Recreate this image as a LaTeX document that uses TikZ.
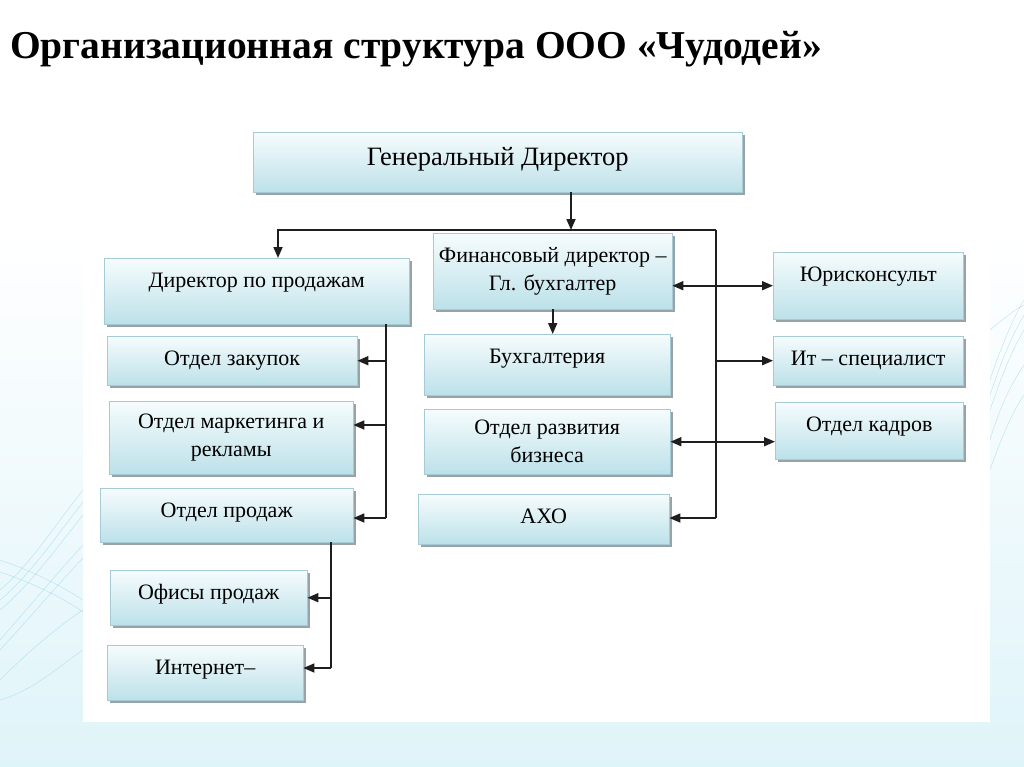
\documentclass[tikz,border=0pt]{standalone}
\usepackage{fontspec}
\setmainfont{Liberation Serif}
\usepackage{tikz}
\usetikzlibrary{arrows.meta, shadows}
\usepackage{xcolor}
\definecolor{boxTop}{HTML}{F6FCFD}
\definecolor{boxBottom}{HTML}{BCE1E9}
\definecolor{boxEdge}{HTML}{A6CBD4}
\definecolor{boxShade}{HTML}{8C9A9E}
\definecolor{waveBlue}{HTML}{8FD0E6}
\definecolor{pageCyan}{HTML}{DFF4F9}
\definecolor{lineDark}{HTML}{1E1E1E}

\begin{document}
\begin{tikzpicture}[
    x=1bp, y=-1bp,
    >={Triangle[length=11bp,width=9bp]},
    unit/.style={rectangle, draw=boxEdge, top color=boxTop, bottom color=boxBottom,
        inner xsep=0pt, inner ysep=0pt, anchor=north west, align=center,
        font=\fontsize{22bp}{28bp}\selectfont,
        drop shadow={shadow xshift=2.5bp, shadow yshift=-3bp, fill=boxShade, opacity=0.9}},
    oneline/.style={text height=29bp, text depth=#1},
    link/.style={draw=lineDark, line width=1.7bp},
    wave/.style={draw=waveBlue, line width=0.5bp, opacity=0.5}
]
    \useasboundingbox (0,0) rectangle (1024,767);

    % page background
    \fill[top color=white, bottom color=pageCyan] (0,240) rectangle (1024,767);
    \draw[wave] (0,590) .. controls (30,565) and (55,525) .. (83,490);
    \draw[wave] (0,600) .. controls (30,575) and (55,538) .. (83,502);
    \draw[wave] (0,610) .. controls (30,585) and (55,550) .. (83,515);
    \draw[wave] (0,640) .. controls (35,600) and (60,570) .. (83,545);
    \draw[wave] (0,650) .. controls (35,612) and (60,582) .. (83,558);
    \draw[wave] (0,560) .. controls (30,570) and (60,585) .. (83,600);
    \draw[wave] (0,572) .. controls (30,582) and (60,596) .. (83,612);
    \draw[wave] (0,680) .. controls (30,650) and (60,625) .. (83,610);
    \draw[wave] (0,700) .. controls (35,690) and (60,665) .. (83,650);
    \draw[wave] (990,380) .. controls (1000,350) and (1012,320) .. (1024,300);
    \draw[wave] (990,395) .. controls (1001,362) and (1012,335) .. (1024,315);
    \draw[wave] (990,410) .. controls (1002,375) and (1012,350) .. (1024,330);
    \draw[wave] (990,440) .. controls (1002,400) and (1014,380) .. (1024,365);
    \draw[wave] (990,470) .. controls (1004,430) and (1014,410) .. (1024,395);
    \draw[wave] (990,330) .. controls (1002,320) and (1014,310) .. (1024,305);
    \fill[white] (83,98) rectangle (990,722);

    \node[anchor=base west, inner sep=0pt, font=\bfseries\fontsize{39.5bp}{44bp}\selectfont] (title) at (10,59)
        {Организационная структура ООО «Чудодей»};

    % boxes
    \node[unit, minimum width=489bp, text height=33bp, text depth=27bp,
        font=\fontsize{26.5bp}{30bp}\selectfont] (Gen) at (253,132) {Генеральный Директор};
    \node[unit, oneline=37bp, minimum width=305bp] (Sales) at (104,258) {Директор по продажам};
    \node[unit, minimum width=239bp, minimum height=76bp] (Fin) at (433,233) {Финансовый директор –\\Гл. бухгалтер};
    \node[unit, oneline=38bp, minimum width=190bp] (Law) at (773,252) {Юрисконсульт};
    \node[unit, oneline=20bp, minimum width=190bp] (IT) at (773,336) {Ит – специалист};
    \node[unit, oneline=28bp, minimum width=188bp] (HR) at (775,402) {Отдел кадров};
    \node[unit, oneline=32bp, minimum width=246bp] (Acc) at (424,334) {Бухгалтерия};
    \node[unit, minimum width=246bp, minimum height=65bp] (Biz) at (424,409) {Отдел развития\\бизнеса};
    \node[unit, oneline=21bp, minimum width=251bp] (AHO) at (418,494) {АХО};
    \node[unit, oneline=20bp, minimum width=250bp] (Buy) at (107,336) {Отдел закупок};
    \node[unit, minimum width=244bp, minimum height=73bp] (Mkt) at (109,401) {Отдел маркетинга и\\рекламы};
    \node[unit, oneline=25bp, minimum width=253bp] (Dept) at (100,488) {Отдел продаж};
    \node[unit, oneline=26bp, minimum width=197bp] (Off) at (110,570) {Офисы продаж};
    \node[unit, oneline=26bp, minimum width=196bp] (Web) at (107,645) {Интернет–};

    % buses
    \coordinate (busL) at (278,230);
    \coordinate (busR) at (716,230);
    \coordinate (busE) at (716,518);
    \coordinate (genOut) at (571,230);
    \coordinate (salesBus) at (386,518);
    \coordinate (mktIn) at (386,425);
    \coordinate (deptBus) at (331,668);

    \draw[link, ->] (genOut |- Gen.south) -- (genOut);
    \draw[link, ->] (busR) -- (busL) -- (busL |- Sales.north);
    \draw[link] (busR) -- (busE);
    \draw[link, ->] (busR |- IT.west) -- (IT.west);
    \draw[link, ->] (busE) -- (busE -| AHO.east);
    \draw[link, <->] (Fin.east |- Law.west) -- (Law.west);
    \draw[link, <->] (Biz.east) -- (Biz.east -| HR.west);
    \draw[link, ->] (Fin.south) -- (Fin.south |- Acc.north);

    \draw[link] (salesBus |- Sales.south) -- (salesBus);
    \draw[link, ->] (salesBus |- Buy.east) -- (Buy.east);
    \draw[link, ->] (mktIn) -- (mktIn -| Mkt.east);
    \draw[link, ->] (salesBus) -- (salesBus -| Dept.east);

    \draw[link] (deptBus |- Dept.south) -- (deptBus);
    \draw[link, ->] (deptBus |- Off.east) -- (Off.east);
    \draw[link, ->] (deptBus) -- (deptBus -| Web.east);
\end{tikzpicture}
\end{document}
